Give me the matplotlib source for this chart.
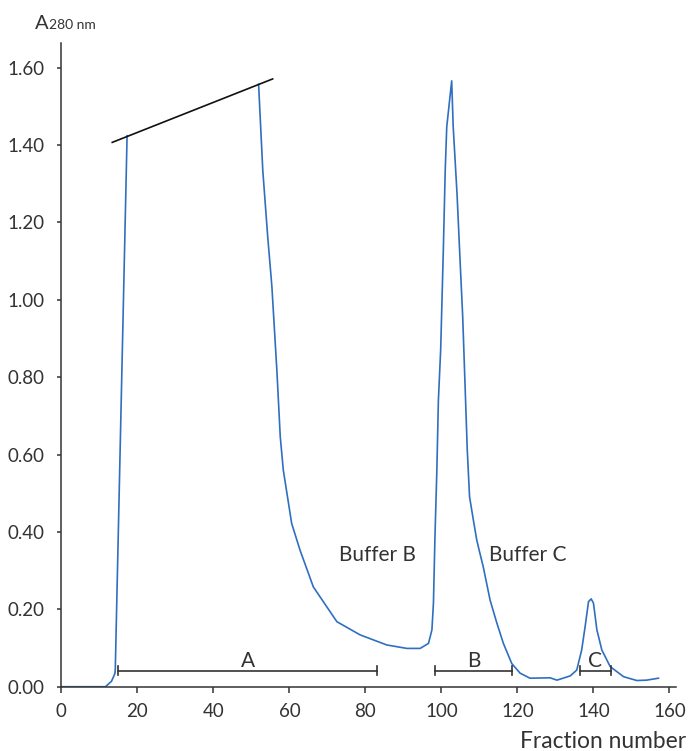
import matplotlib.pyplot as plt
import numpy as np

plt.rcParams["font.family"] = ["Lato", "DejaVu Sans"]

# front of the first peak (detector saturates at the top)
rise_frac = [0, 11.6, 13.2, 14.1, 14.2, 17.3]
rise_abs = [0.0, 0.0, 0.014, 0.034, 0.046, 1.424]

# rest of the trace after the saturated part
tail_frac = [51.9, 53.0, 54.3, 55.4, 56.7, 57.6, 58.4, 60.6, 62.8, 66.3, 72.5, 78.6,
             85.6, 90.9, 94.4, 96.6, 97.5, 97.9, 98.3, 98.8, 99.2, 99.8, 100.5, 101.0,
             101.4, 102.7, 103.1, 104.1, 104.9, 105.6, 106.2, 106.8, 107.4, 108.4, 109.3,
             110.0, 111.0, 112.8, 114.6, 116.3, 118.5, 120.7, 123.3, 128.6, 130.4, 133.9,
             135.6, 136.9, 137.8, 138.7, 139.4, 140.0, 140.9, 142.2, 144.4, 147.9, 151.4,
             154.0, 157.1]
tail_abs = [1.557, 1.335, 1.163, 1.034, 0.819, 0.646, 0.560, 0.422, 0.353, 0.258, 0.168, 0.134,
            0.108, 0.099, 0.099, 0.112, 0.147, 0.216, 0.388, 0.560, 0.740, 0.870, 1.128, 1.335,
            1.447, 1.566, 1.447, 1.275, 1.103, 0.956, 0.784, 0.612, 0.491, 0.431, 0.379,
            0.350, 0.310, 0.224, 0.164, 0.112, 0.060, 0.035, 0.022, 0.023, 0.017, 0.028,
            0.043, 0.095, 0.155, 0.220, 0.227, 0.216, 0.147, 0.095, 0.052, 0.026, 0.016,
            0.017, 0.022]

# extrapolated top of the saturated peak
top_frac = [13.4, 55.6]
top_abs = [1.407, 1.571]

# pooled fractions
pool_names = ["A", "B", "C"]
pool_start = [15.0, 98.3, 136.5]
pool_end = [83.0, 118.5, 144.5]
pool_level = 0.041

buffer_names = ["Buffer B", "Buffer C"]
buffer_x = [73.0, 112.6]
buffer_y = [0.34, 0.34]

xticks = [0, 20, 40, 60, 80, 100, 120, 140, 160]
yticks = [0.0, 0.2, 0.4, 0.6, 0.8, 1.0, 1.2, 1.4, 1.6]

blue = "#2f6fc0"
dark = "#333333"

fig = plt.figure(figsize=(6.89, 7.51), dpi=100)
ax = fig.add_axes([0.089, 0.0856, 0.8915, 0.8567])

ax.plot(rise_frac, rise_abs, color=blue, lw=1.2)
ax.plot(tail_frac, tail_abs, color=blue, lw=1.2)
ax.plot(top_frac, top_abs, color="#111111", lw=1.2)

for name, s, e in zip(pool_names, pool_start, pool_end):
    ax.plot([s, e], [pool_level, pool_level], color=dark, lw=1.2)
    ax.plot([s, s], [pool_level - 0.012, pool_level + 0.012], color=dark, lw=1.2)
    ax.plot([e, e], [pool_level - 0.012, pool_level + 0.012], color=dark, lw=1.2)
    ax.text((s + e) / 2, pool_level + 0.011, name, ha="center", va="baseline",
            fontsize=15, color=dark)

for name, bx, by in zip(buffer_names, buffer_x, buffer_y):
    ax.text(bx, by, name, ha="left", va="center", fontsize=15, color=dark)

ax.set_xlim(0, 161.6)
ax.set_ylim(0, 1.663)
ax.set_xticks(xticks)
ax.set_yticks(yticks)
ax.set_xticklabels([str(t) for t in xticks])
ax.set_yticklabels(["%.2f" % t for t in yticks])

for side in ["top", "right"]:
    ax.spines[side].set_visible(False)
for side in ["left", "bottom"]:
    ax.spines[side].set_color(dark)
    ax.spines[side].set_linewidth(1.1)

ax.tick_params(axis="x", length=4.5, width=1.1, color=dark, labelcolor=dark,
               labelsize=13.5, pad=7)
ax.tick_params(axis="y", length=3, width=1.1, color=dark, labelcolor=dark,
               labelsize=13.5, pad=9)

fig.text(0.051, 0.962, "A", fontsize=14.5, color=dark, ha="left", va="baseline")
fig.text(0.071, 0.962, "280 nm", fontsize=10, color=dark, ha="left", va="baseline")
fig.text(0.996, 0.004, "Fraction number", fontsize=16.4, color=dark, ha="right",
         va="baseline")

fig.savefig("out.png", dpi=100)
